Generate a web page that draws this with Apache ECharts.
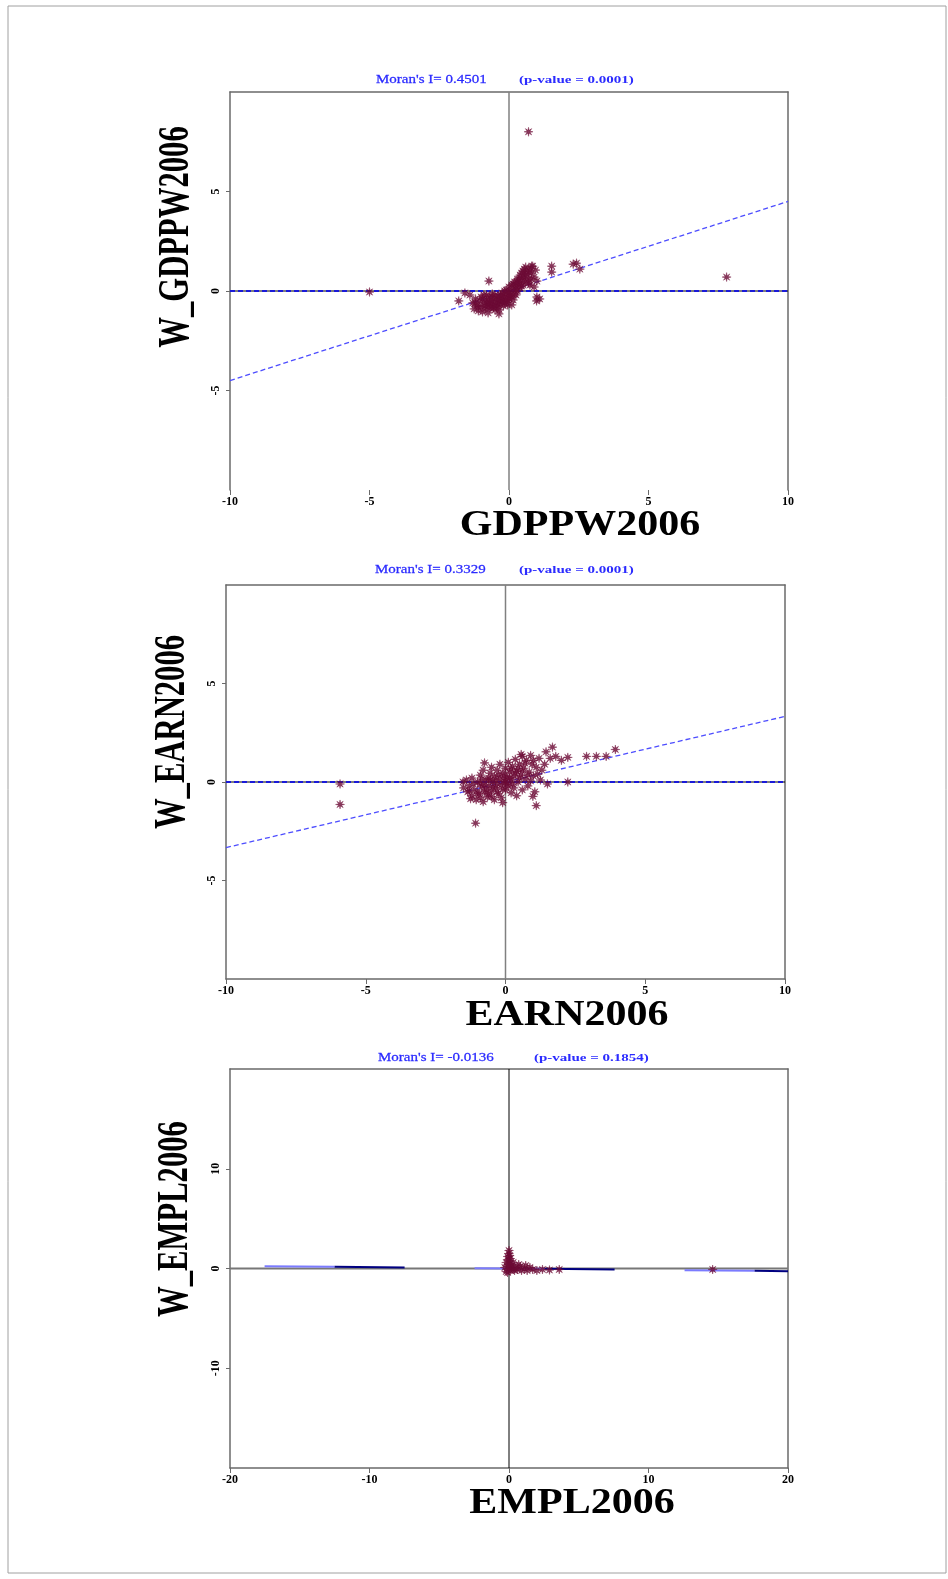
<!DOCTYPE html>
<html><head><meta charset="utf-8">
<script src="https://cdn.jsdelivr.net/npm/echarts@6/dist/echarts.min.js"></script>
<style>html,body{margin:0;padding:0;background:#fff;}#c{width:948px;height:1579px;}</style>
</head><body><div id="c"></div>
<script>
// ---- data ----
const gdpPoints = [
[-1.3,-0.6],[-1.25,-0.9],[-1.2,-0.4],[-1.15,-0.75],[-1.1,-1.0],[-1.05,-0.5],[-1.0,-0.8],[-1.0,-0.3],[-0.95,-1.05],[-0.9,-0.6],
[-0.9,-0.2],[-0.85,-0.9],[-0.8,-0.45],[-0.8,-0.7],[-0.75,-1.1],[-0.7,-0.3],[-0.7,-0.6],[-0.65,-0.85],[-0.6,-0.5],[-0.6,-0.15],
[-0.55,-0.7],[-0.5,-0.95],[-0.5,-0.4],[-0.45,-0.6],[-0.4,-0.25],[-0.4,-0.8],[-0.35,-0.5],[-0.3,-0.35],[-0.3,-0.65],[-0.25,-0.1],
[-0.2,-0.45],[-0.2,-0.75],[-0.15,-0.3],[-0.1,-0.55],[-0.1,0.05],[-0.05,-0.2],[0,-0.4],[0,0.2],[0.05,-0.05],[0.1,-0.3],
[0.1,0.3],[0.15,0.1],[0.2,-0.15],[0.2,0.45],[0.25,0.25],[0.3,0.0],[0.3,0.6],[0.35,0.35],[0.4,0.15],[0.4,0.8],
[0.45,0.5],[0.5,0.3],[0.5,1.0],[0.55,0.65],[0.6,0.45],[0.6,1.2],[0.65,0.85],[0.7,0.6],[0.7,1.1],[0.75,0.3],
[0.8,0.9],[0.85,1.25],[0.9,0.7],[0.9,0.2],[0.95,1.05],[1.0,0.5],[-0.6,-0.3],[-0.2,-0.2],[0.0,-0.1],[-0.4,-0.45],
[-0.8,-0.2],[-1.4,-0.2],[-0.05,-0.7],[0.25,-0.2],
[-1.2,-0.6],[-1.1,-0.8],[-0.95,-0.4],[-0.85,-0.75],[-0.75,-0.5],[-0.65,-0.65],[-0.55,-0.85],[-0.5,-0.2],[-0.45,-0.75],[-0.35,-0.95],
[-0.25,-0.55],[-0.15,-0.6],[-0.05,-0.45],[0.05,-0.25],[0.15,-0.45],[0.15,0.35],[0.25,0.1],[0.35,0.6],[0.45,0.25],[0.5,0.7],
[0.6,0.85],[0.7,0.4],[0.75,1.0],[0.8,0.6],[0.55,1.1],[0.45,0.9],[0.3,0.4],[-0.15,0.0],[-0.3,-0.2],[-0.7,-0.85],
[0.7,8.0],[7.8,0.7],[-5.0,-0.05],[-0.72,0.5],[-1.8,-0.5],[-1.58,-0.1],[1.53,1.25],[1.53,0.95],[2.42,1.4],[2.54,1.1],
[2.3,1.35],[0.99,-0.5],[-0.36,-1.15],[0.1,-0.7],[0.81,1.25],[1.0,-0.3],[1.1,-0.4]
];
const earnPoints = [
[-1.5,-0.3],[-1.4,0.1],[-1.35,-0.5],[-1.3,-0.2],[-1.2,-0.7],[-1.2,0.2],[-1.1,-0.4],[-1.05,-0.9],[-1.0,0.0],[-0.95,-0.6],
[-0.9,0.35],[-0.85,-0.25],[-0.8,-1.0],[-0.8,0.6],[-0.75,-0.5],[-0.7,0.1],[-0.65,-0.75],[-0.6,-0.2],[-0.55,0.45],[-0.5,-0.45],
[-0.5,0.75],[-0.45,0.0],[-0.4,-0.9],[-0.4,0.3],[-0.35,-0.3],[-0.3,0.6],[-0.25,-0.6],[-0.2,0.15],[-0.2,0.9],[-0.15,-0.15],
[-0.1,0.45],[-0.1,-1.05],[-0.05,0.05],[0,-0.4],[0,0.7],[0.05,0.25],[0.1,-0.2],[0.1,1.0],[0.15,0.5],[0.2,-0.55],
[0.2,0.1],[0.25,0.8],[0.3,0.3],[0.3,-0.3],[0.35,1.15],[0.4,0.55],[0.45,0.0],[0.5,0.9],[0.55,0.35],[0.6,-0.4],
[0.6,1.3],[0.65,0.7],[0.7,0.15],[0.75,1.1],[0.8,-0.2],[0.85,0.5],[0.9,1.35],[0.95,0.9],[1.0,0.3],[1.05,-0.5],
[1.1,0.75],[1.2,1.2],[1.25,0.1],[1.3,0.6],[1.4,0.9],[1.5,-0.1],[-0.6,0.2],[-0.3,-0.1],[0.0,0.0],[-0.9,-0.1],
[0.4,-0.7],[-0.15,-0.8],
[-1.3,-0.45],[-1.15,-0.1],[-1.0,-0.55],[-0.9,-0.8],[-0.75,-0.15],[-0.7,-0.4],[-0.6,-0.6],[-0.55,0.1],[-0.45,-0.25],[-0.35,0.1],
[-0.3,-0.5],[-0.25,0.35],[-0.1,-0.35],[-0.05,0.3],[0.05,-0.1],[0.15,0.2],[0.2,0.65],[0.25,-0.1],[0.35,0.45],[0.45,0.7],
[0.5,0.2],[0.6,0.55],[0.7,0.95],[0.8,0.35],[1.0,1.1],[1.15,0.4],[0.9,0.05],[-0.85,0.15],[-1.25,-0.85],[-0.5,-0.75],
[-1.07,-2.09],[1.1,-1.2],[0.98,-0.73],[3.93,1.65],[3.6,1.3],[3.25,1.3],[2.9,1.3],[2.23,0.0],[2.23,1.25],[1.8,1.3],
[1.68,1.77],[1.45,1.53],[0.56,1.4],[-0.75,0.97],[-1.52,0.0],[-5.92,-0.1],[-5.92,-1.14],[2.0,1.1],[1.6,1.2]
];
const emplPoints = [
[0,1.8],[0,1.5],[-0.1,1.2],[0.1,1.0],[0,0.8],[-0.2,0.6],[0.1,0.5],[0.2,0.3],[-0.1,0.2],[0,0],
[0.1,-0.2],[-0.2,-0.3],[0.3,-0.1],[0.2,0.1],[-0.1,-0.4],[0.4,-0.2],[0.5,0.1],[0.6,-0.1],[0.8,0.2],[0.9,-0.2],
[1.1,0.0],[1.3,-0.2],[1.5,0.1],[1.7,-0.1],[2.0,-0.2],[2.4,-0.1],[2.9,-0.15],[3.6,-0.1],[14.6,-0.1],[-0.3,0.1],
[0,0.4],[0.05,1.3],[-0.05,0.9],[0.3,0.6],[1.2,0.3],[0.7,0.4]
];
const reg1 = [[-10,-4.5],[10,4.5]];
const reg2 = [[-10,-3.33],[10,3.33]];
const reg3 = [[-20,0.27],[20,-0.27]];
const xNames = ['GDPPW2006','EARN2006','EMPL2006'];
const yNames = ['W_GDPPW2006','W_EARN2006','W_EMPL2006'];
const moranI = ['0.4501','0.3329','-0.0136'];
const pValues = ['0.0001','0.0001','0.1854'];
const ranges = [[-10,10,5],[-10,10,5],[-20,20,10]];

// ---- layout ----
const grids = [
  {left:230, top:92, width:558, height:398},
  {left:226, top:585, width:559, height:394},
  {left:230, top:1069, width:558, height:399}
];
const FONT = '"Liberation Serif", "DejaVu Serif", serif';
const star = 'path://M20,10L13.2,11.3L17.07,17.07L11.3,13.2L10,20L8.7,13.2L2.93,17.07L6.8,11.3L0,10L6.8,8.7L2.93,2.93L8.7,6.8L10,0L11.3,6.8L17.07,2.93L13.2,8.7Z';
const frameColor = '#6a6a6a';

const xAxes = [], yAxes = [], series = [];
grids.forEach((g, i) => {
  const [mn, mx, iv] = ranges[i];
  xAxes.push({gridIndex:i, type:'value', min:mn, max:mx, interval:iv, position:'bottom',
    axisLine:{show: i !== 0, onZero:false, lineStyle:{color:frameColor, width:1.5}},
    axisTick:{show:true, length:5, lineStyle:{color:frameColor}},
    axisLabel:{color:'#000', fontFamily:FONT, fontSize:12, fontWeight:'bold', margin:6},
    splitLine:{show:false}});
  xAxes.push({gridIndex:i, type:'value', min:mn, max:mx, position:'top',
    axisLine:{show:true, onZero:false, lineStyle:{color:frameColor, width:1.5}},
    axisTick:{show:false}, axisLabel:{show:false}, splitLine:{show:false}});
  yAxes.push({gridIndex:i, type:'value', min:mn, max:mx, interval:iv, position:'left',
    axisLine:{show:true, onZero:false, lineStyle:{color:frameColor, width:1.5}},
    axisTick:{show:true, length:4, lineStyle:{color:frameColor}},
    axisLabel:{color:'#000', fontFamily:FONT, fontSize:12, fontWeight:'bold', rotate:90, margin:8,
      showMinLabel:false, showMaxLabel:false},
    splitLine:{show:false}});
  yAxes.push({gridIndex:i, type:'value', min:mn, max:mx, position:'right',
    axisLine:{show:true, onZero:false, lineStyle:{color:frameColor, width:1.5}},
    axisTick:{show:false}, axisLabel:{show:false}, splitLine:{show:false}});
  const xi = i*2, yi = i*2;
  series.push({type:'line', xAxisIndex:xi, yAxisIndex:yi, data:[[0,mn],[0,mx]], symbol:'none', silent:true, z:1,
    lineStyle:{color: i===2 ? '#000' : '#808080', width: i===2 ? 1 : 1.5}});
  if (i < 2) {
    series.push({type:'line', xAxisIndex:xi, yAxisIndex:yi, data:[[mn,0],[mx,0]], symbol:'none', silent:true, z:2,
      lineStyle:{color:'#000', width:1.2}});
    series.push({type:'line', xAxisIndex:xi, yAxisIndex:yi, data:[[mn,0],[mx,0]], symbol:'none', silent:true, z:3,
      lineStyle:{color:'#1a1ad8', width:2, type:[5,3]}});
    series.push({type:'line', xAxisIndex:xi, yAxisIndex:yi, data: i===0 ? reg1 : reg2, symbol:'none', silent:true, z:3,
      lineStyle:{color:'#4d4dff', width:1.3, type:[5,3]}});
  } else {
    series.push({type:'line', xAxisIndex:xi, yAxisIndex:yi, data:[[mn,0],[mx,0]], symbol:'none', silent:true, z:2,
      lineStyle:{color:'#777', width:2}});
    series.push({type:'line', xAxisIndex:xi, yAxisIndex:yi, data:reg3, symbol:'none', silent:true, z:3,
      lineStyle:{color:'#7b7bff', width:2, type:[70,140], dashOffset:175.4}});
    series.push({type:'line', xAxisIndex:xi, yAxisIndex:yi, data:reg3, symbol:'none', silent:true, z:3,
      lineStyle:{color:'#000080', width:2, type:[70,140], dashOffset:105.4}});
  }
  series.push({type:'scatter', xAxisIndex:xi, yAxisIndex:yi, data:[gdpPoints, earnPoints, emplPoints][i],
    symbol:star, symbolSize:9, z:5, itemStyle:{color:'#6b0934', borderColor:'#6b0934', borderWidth:0.5}});
});

// ---- texts ----
const titleA = [[376,80],[375,570],[378,1058]];
const titleB = [[519,80],[519,570],[534,1058]];
const yNamePos = [[177,237],[173,732],[176,1219]];
const xNamePos = [[580,526],[567,1016],[572,1504]];
const graphic = [{type:'rect', shape:{x:8,y:6,width:938,height:1567}, style:{fill:'none', stroke:'#a0a0a0', lineWidth:1}, silent:true}];
for (let i = 0; i < 3; i++) {
  graphic.push({type:'text', x:titleA[i][0], y:titleA[i][1], scaleY:0.85, silent:true,
    style:{text:'Moran\'s I= ' + moranI[i], font:'15px ' + FONT, fill:'#2b2bff', align:'left', verticalAlign:'middle',
      stroke:'#2b2bff', lineWidth:0.3}});
  graphic.push({type:'text', x:titleB[i][0], y:titleB[i][1], scaleY:0.75, silent:true,
    style:{text:'(p-value = ' + pValues[i] + ')', font:'bold 15px ' + FONT, fill:'#2b2bff', align:'left', verticalAlign:'middle'}});
  graphic.push({type:'text', x:yNamePos[i][0], y:yNamePos[i][1], rotation:Math.PI/2, scaleX:0.73, scaleY:1.05, silent:true,
    style:{text:yNames[i], font:'bold 42px ' + FONT, fill:'#000', align:'center', verticalAlign:'middle'}});
  graphic.push({type:'text', x:xNamePos[i][0], y:xNamePos[i][1], scaleY:0.85, silent:true,
    style:{text:xNames[i], font:'bold 42px ' + FONT, fill:'#000', align:'center', verticalAlign:'middle'}});
}

const chart = echarts.init(document.getElementById('c'), null, {renderer:'canvas'});
chart.setOption({
  backgroundColor:'#fff', animation:false,
  grid: grids.map(g => Object.assign({containLabel:false}, g)),
  xAxis:xAxes, yAxis:yAxes, series:series, graphic:graphic
});
</script></body></html>
